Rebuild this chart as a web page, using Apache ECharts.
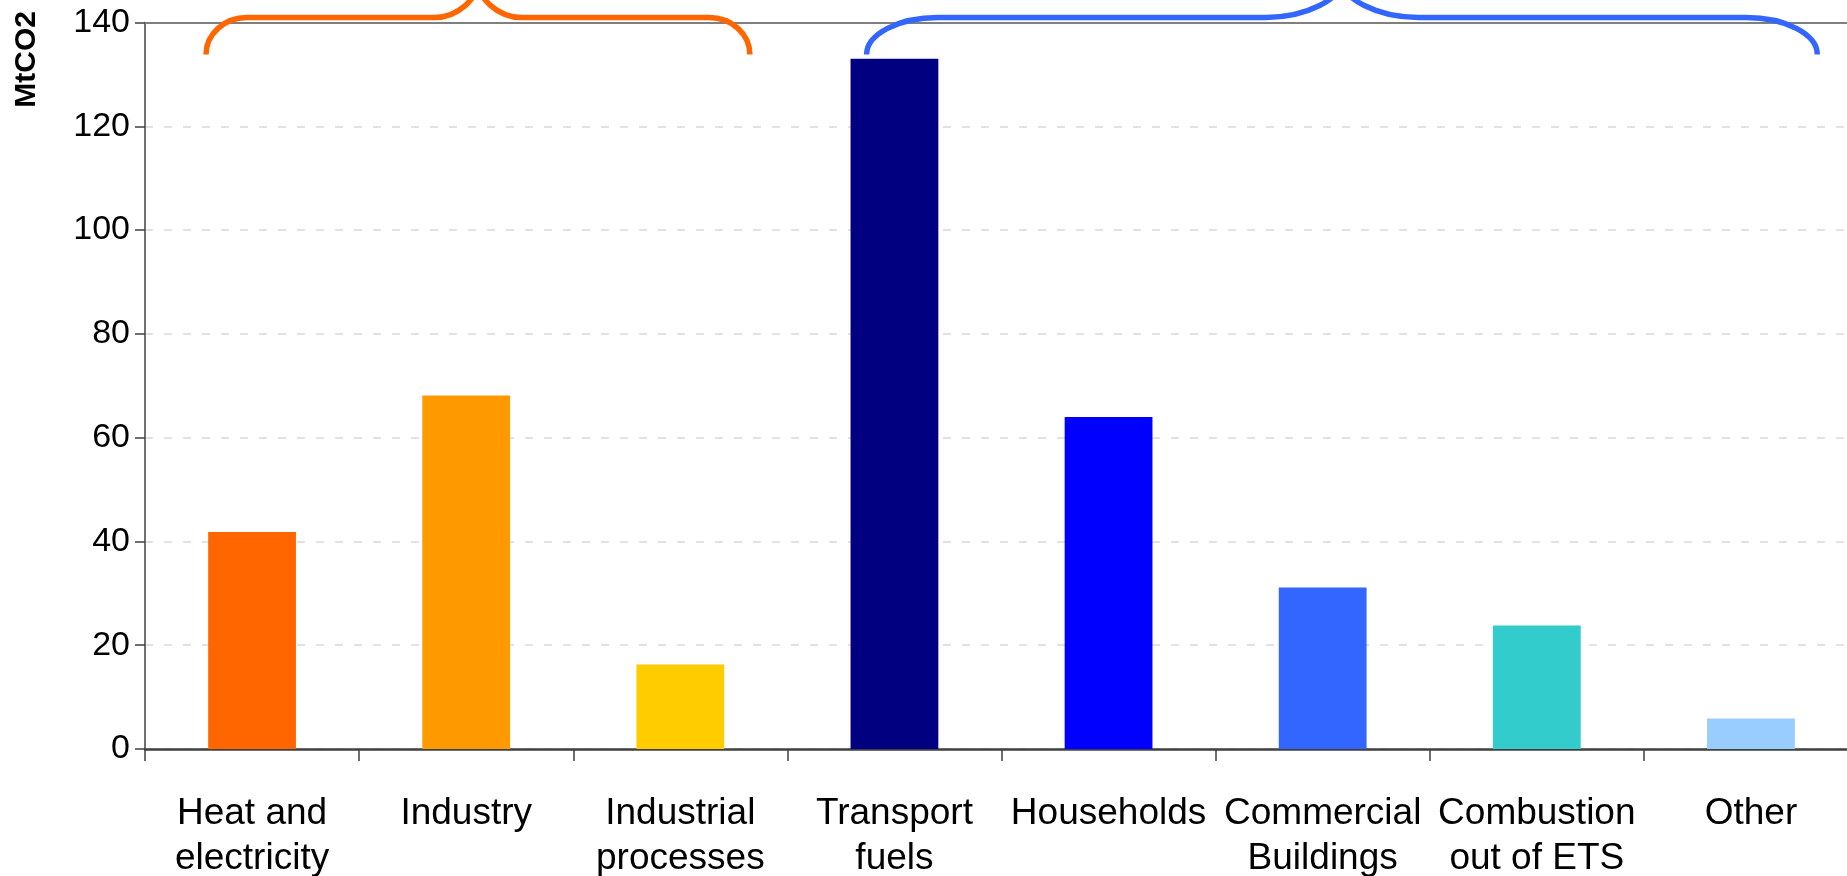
<!DOCTYPE html>
<html>
<head>
<meta charset="utf-8">
<script src="https://cdn.jsdelivr.net/npm/echarts@6/dist/echarts.min.js"></script>
<style>
html,body{margin:0;padding:0;background:#fff;overflow:hidden;}
#chart{width:1847px;height:876px;}
</style>
</head>
<body>
<div id="chart"></div>
<script>
// ---- data ----
const categories = ['Heat and\nelectricity', 'Industry', 'Industrial\nprocesses', 'Transport\nfuels', 'Households', 'Commercial\nBuildings', 'Combustion\nout of ETS', 'Other'];
const emissions = [41.8, 68.1, 16.3, 133.0, 64.0, 31.1, 23.8, 5.9];
const yTicks = [0, 20, 40, 60, 80, 100, 120, 140];
const yAxisTitle = 'MtCO2';
// bracket groups: first and last category index
const bracketFrom = [0, 3];
const bracketTo = [2, 7];

// ---- styles ----
const barColors = ['#FF6600', '#FF9900', '#FFCC00', '#000080', '#0000FF', '#3366FF', '#33CCCC', '#99CCFF'];
const bracketColors = ['#FF6600', '#3366FF'];
const bracketStartOffset = [-0.215, -0.13]; // in category bands
const bracketEndOffset = [0.325, 0.31];
const FONT = "'Liberation Sans', Arial, sans-serif";

const chart = echarts.init(document.getElementById('chart'));

function renderBracket(params, api) {
  const i = params.dataIndex;
  const band = api.size([1, 0])[0];
  const x0 = api.coord([api.value(0), 0])[0] + bracketStartOffset[i] * band;
  const x1 = api.coord([api.value(1), 0])[0] + bracketEndOffset[i] * band;
  const top = api.coord([0, yTicks[yTicks.length - 1]])[1];
  const yH = top - 5;
  const yEnd = top + 32;
  const yTip = yH - 36;
  const W = x1 - x0;
  const cw = W * 0.075;
  const tw = W * 0.08;
  const xm = (x0 + x1) / 2;
  const k = 0.55;
  const d = [
    'M', x0, yEnd,
    'C', x0, yEnd - k * (yEnd - yH), x0 + cw * (1 - k), yH, x0 + cw, yH,
    'L', xm - tw, yH,
    'C', xm - tw * (1 - k), yH, xm, yH - k * (yH - yTip), xm, yTip,
    'M', xm, yTip,
    'C', xm, yH - k * (yH - yTip), xm + tw * (1 - k), yH, xm + tw, yH,
    'L', x1 - cw, yH,
    'C', x1 - cw * (1 - k), yH, x1, yEnd - k * (yEnd - yH), x1, yEnd
  ].join(' ');
  return {
    type: 'path',
    shape: { pathData: d },
    style: { stroke: bracketColors[i], fill: null, lineWidth: 5.5, lineCap: 'butt' },
    silent: true
  };
}

const option = {
  animation: false,
  backgroundColor: '#ffffff',
  grid: { left: 145, top: 22.5, width: 1713, height: 726.5, containLabel: false, outerBoundsMode: 'none' },
  xAxis: [{
    type: 'category',
    data: categories,
    position: 'bottom',
    axisLine: { show: true, lineStyle: { color: '#404040', width: 2.5 } },
    axisTick: { show: true, length: 12, lineStyle: { color: '#404040', width: 1.5 } },
    axisLabel: {
      color: '#000', fontFamily: FONT, fontSize: 37, lineHeight: 45, margin: 42, interval: 0
    },
    splitLine: { show: false }
  }, {
    type: 'category',
    data: categories,
    position: 'top',
    axisLine: { show: true, lineStyle: { color: '#7f7f7f', width: 2 } },
    axisTick: { show: false },
    axisLabel: { show: false },
    splitLine: { show: false }
  }],
  yAxis: {
    type: 'value',
    min: 0, max: 140, interval: 20,
    axisLine: { show: true, lineStyle: { color: '#404040', width: 1.5 } },
    axisTick: { show: true, length: 10, lineStyle: { color: '#404040', width: 1.5 } },
    axisLabel: {
      color: '#000', fontFamily: FONT, fontSize: 34, margin: 15,
      formatter: v => (yTicks.indexOf(v) >= 0 ? String(v) : '')
    },
    splitLine: { show: true, lineStyle: { color: '#d9d9d9', width: 1.5, type: [8, 11] } }
  },
  graphic: [{
    type: 'text',
    left: 12,
    top: 11,
    rotation: Math.PI / 2,
    style: { text: yAxisTitle, font: 'bold 30px ' + FONT, fill: '#000' },
    silent: true
  }],
  series: [{
    type: 'bar',
    xAxisIndex: 0,
    barWidth: '41%',
    data: emissions.map((v, i) => ({ value: v, itemStyle: { color: barColors[i] } })),
    silent: true
  }, {
    type: 'custom',
    xAxisIndex: 0,
    renderItem: renderBracket,
    clip: false,
    silent: true,
    z: 5,
    encode: { x: 0 },
    data: bracketFrom.map((f, i) => [f, bracketTo[i]])
  }]
};
chart.setOption(option);
</script>
</body>
</html>
